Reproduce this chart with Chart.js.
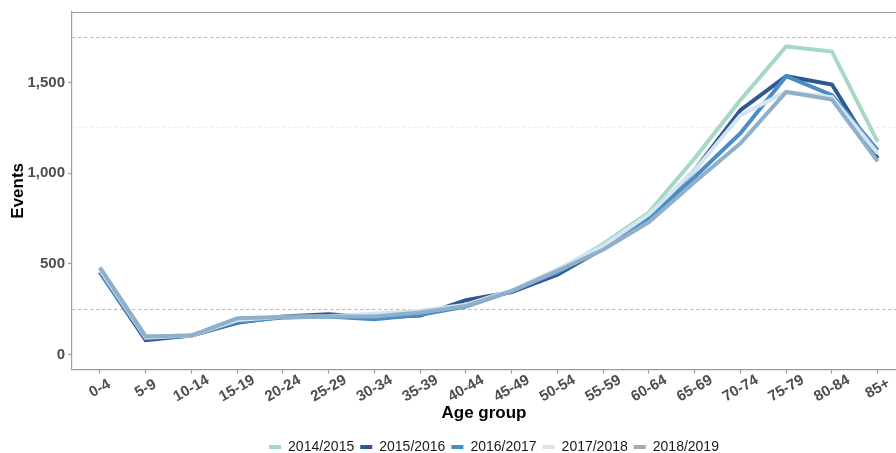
<!DOCTYPE html>
<html>
<head>
  <title>Events by age group</title>
  <script src="https://cdn.jsdelivr.net/npm/chart.js"></script>
  <style>
    body { margin: 0; background: #fff; }
    #chart-container { width: 896px; height: 453px; position: relative; }
  </style>
</head>
<body>
  <div id="chart-container">
    <canvas id="eventsChart"></canvas>
  </div>

  <script>
    const ageGroups = ['0-4', '5-9', '10-14', '15-19', '20-24', '25-29', '30-34', '35-39', '40-44',
      '45-49', '50-54', '55-59', '60-64', '65-69', '70-74', '75-79', '80-84', '85+'];

    const years = ['2014/2015', '2015/2016', '2016/2017', '2017/2018', '2018/2019'];

    const events1415 = [480, 100, 105, 195, 205, 210, 205, 230, 270, 350, 460, 610, 785, 1083, 1405, 1700, 1672, 1173];
    const events1516 = [455, 80, 105, 175, 210, 222, 205, 215, 300, 345, 440, 585, 760, 1017, 1348, 1536, 1490, 1082];
    const events1617 = [455, 90, 105, 180, 205, 210, 195, 220, 265, 350, 455, 585, 755, 980, 1221, 1536, 1431, 1127];
    const events1718 = [470, 95, 105, 190, 208, 212, 225, 242, 275, 355, 470, 600, 775, 1017, 1320, 1449, 1420, 1110];
    const events1819 = [480, 100, 105, 200, 207, 210, 210, 232, 268, 350, 462, 578, 731, 952, 1166, 1449, 1407, 1066];

    const yTicks = [0, 250, 500, 750, 1000, 1250, 1500, 1750];

    const seriesValues = [events1415, events1516, events1617, events1718, events1819];
    const lineColors = ['#a5d8c5', '#30578f', '#4a8dc6', '#d4e5f2', '#90afca'];

    const axisGrey = '#9c9c9c';
    const labelGrey = '#4d4d4d';
    const fontFamily = '"Liberation Sans", Arial, sans-serif';

    // later seasons are drawn on top of earlier ones
    const datasets = years.map((yr, i) => ({
      label: yr,
      data: seriesValues[i].map((v, k) => ({ x: k, y: v })),
      borderColor: lineColors[i],
      backgroundColor: lineColors[i],
      borderWidth: 4,
      pointRadius: 0,
      tension: 0,
      order: years.length - i
    }));

    // top frame line plus rotated, centred age labels under the axis
    const framePlugin = {
      id: 'frame',
      afterLayout(chart) {
        // nudge the legend a bit right so it sits under the panel centre
        if (chart.legend) {
          chart.legend.left += 10;
          chart.legend.right += 10;
        }
      },
      afterDraw(chart) {
        const { ctx, chartArea } = chart;
        const xs = chart.scales.x;
        ctx.save();
        ctx.strokeStyle = axisGrey;
        ctx.lineWidth = 1.2;
        ctx.beginPath();
        ctx.moveTo(chartArea.left, chartArea.top + 0.5);
        ctx.lineTo(chartArea.right, chartArea.top + 0.5);
        ctx.stroke();

        ctx.fillStyle = labelGrey;
        ctx.font = 'bold 15px ' + fontFamily;
        ctx.textAlign = 'center';
        ctx.textBaseline = 'middle';
        ageGroups.forEach((lbl, i) => {
          ctx.save();
          ctx.translate(xs.getPixelForValue(i), chartArea.bottom + 19);
          ctx.rotate(-Math.PI / 6);
          ctx.fillText(lbl, 0, 0);
          ctx.restore();
        });
        ctx.restore();
      }
    };

    new Chart(document.getElementById('eventsChart'), {
      type: 'line',
      data: { datasets: datasets },
      plugins: [framePlugin],
      options: {
        responsive: true,
        maintainAspectRatio: false,
        animation: false,
        layout: { padding: { top: 12, left: 0, right: 0, bottom: -11 } },
        plugins: {
          tooltip: { enabled: false },
          legend: {
            position: 'bottom',
            fullSize: false,
            labels: {
              boxWidth: 12,
              boxHeight: 4,
              padding: 6,
              color: '#1a1a1a',
              font: { family: fontFamily, size: 14 },
              sort: (a, b) => a.datasetIndex - b.datasetIndex,
              generateLabels(chart) {
                const items = Chart.defaults.plugins.legend.labels.generateLabels(chart);
                items.forEach(it => { it.lineWidth = 0; it.fillStyle = it.strokeStyle; });
                return items;
              }
            }
          }
        },
        scales: {
          x: {
            type: 'linear',
            min: -0.61,
            max: 17.4,
            afterBuildTicks: scale => { scale.ticks = ageGroups.map((_, i) => ({ value: i })); },
            ticks: { display: false },
            grid: {
              color: 'transparent',
              drawOnChartArea: false,
              tickColor: axisGrey,
              tickLength: 4,
              tickWidth: 1.2
            },
            border: { color: axisGrey, width: 1.2 },
            title: {
              display: true,
              text: 'Age group',
              color: '#000',
              font: { family: fontFamily, size: 17, weight: 'bold' },
              padding: { top: 30, bottom: 10 }
            }
          },
          y: {
            min: -83,
            max: 1890,
            afterBuildTicks: scale => { scale.ticks = yTicks.map(v => ({ value: v })); },
            afterFit: scale => { scale.width = 72; },
            ticks: {
              color: labelGrey,
              padding: 3,
              font: { family: fontFamily, size: 15, weight: 'bold' },
              callback: v => (v % 500 === 0 ? v.toLocaleString('en-US') : '')
            },
            grid: {
              color: ctx => {
                const v = ctx.tick.value;
                if (v === 250 || v === 1750) return '#b3b3b3';
                if (v === 1250) return '#eeeeee';
                return 'transparent';
              },
              tickColor: ctx => (ctx.tick.value % 500 === 0 ? axisGrey : 'transparent'),
              tickLength: 4,
              tickWidth: 1.2,
              lineWidth: 1
            },
            border: { color: axisGrey, width: 1.2, dash: [3, 3] },
            title: {
              display: true,
              text: 'Events',
              color: '#000',
              font: { family: fontFamily, size: 17, weight: 'bold' },
              padding: { top: 8, bottom: 2 }
            }
          }
        }
      }
    });
  </script>
</body>
</html>
